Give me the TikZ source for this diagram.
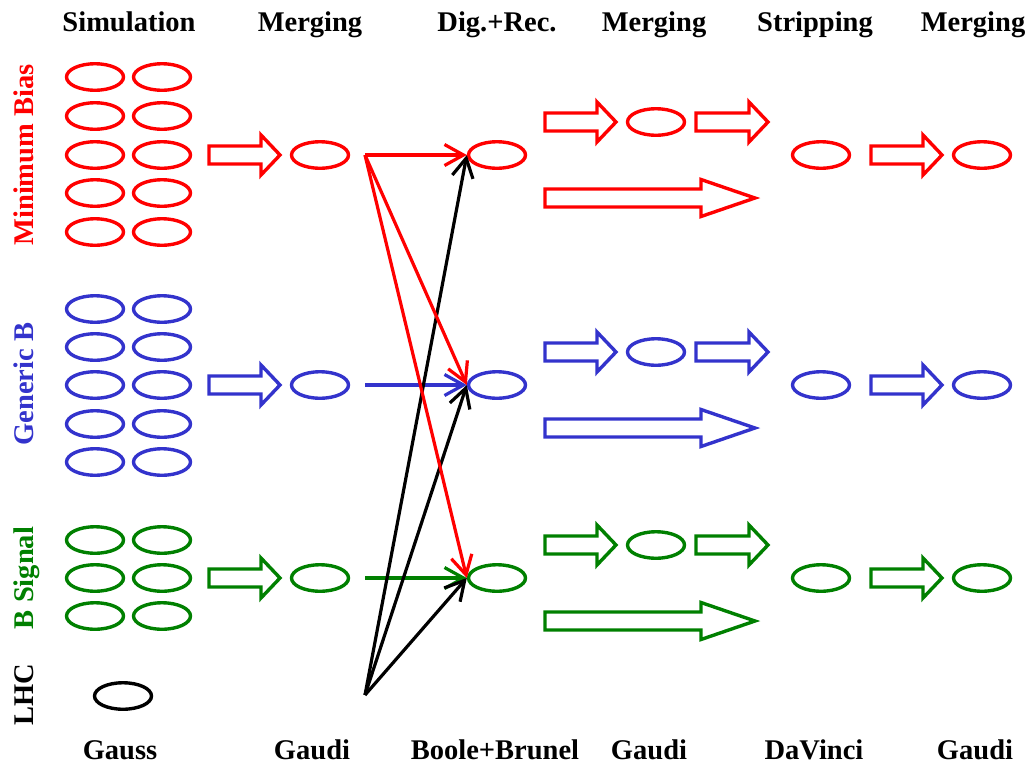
\documentclass[tikz,border=0pt]{standalone}
\usepackage{fontspec}
\setmainfont{Liberation Serif}
\usetikzlibrary{arrows.meta,shapes.geometric}
\definecolor{myred}{RGB}{255,0,0}
\definecolor{myblue}{RGB}{51,51,204}
\definecolor{mygreen}{RGB}{0,128,0}
% block arrow: colour, y, x start, x head start, x tip, head half height
\newcommand\blockarr[6]{%
  \draw[blockline,#1] (#3,#2-9) -- (#4,#2-9) -- (#4,#2-#6) -- (#5,#2) -- (#4,#2+#6) -- (#4,#2+9) -- (#3,#2+9) -- cycle;}
\begin{document}
\begin{tikzpicture}[x=1pt,y=-1pt,
  lab/.style={font=\fontsize{28.5}{30}\selectfont\bfseries, inner sep=0pt, anchor=base},
  ell/.style={draw, ellipse, line width=3.4pt, minimum width=57pt, minimum height=26.5pt, inner sep=0pt},
  blockline/.style={line width=3.4pt, line join=miter},
  conn/.style={line width=3.2pt, -{Straight Barb[length=19pt,width=21pt,line width=3.2pt]}}]
\useasboundingbox (0,0) rectangle (1029,764);
% header labels
\node[lab] (h1) at (129,31) {Simulation};
\node[lab] (h2) at (310,31) {Merging};
\node[lab] (h3) at (497,31) {Dig.+Rec.};
\node[lab] (h4) at (654,31) {Merging};
\node[lab] (h5) at (815,31) {Stripping};
\node[lab] (h6) at (973,31) {Merging};
% footer labels
\node[lab] (f1) at (120,759) {Gauss};
\node[lab] (f2) at (312,759) {Gaudi};
\node[lab] (f3) at (495,759) {Boole+Brunel};
\node[lab] (f4) at (649,759) {Gaudi};
\node[lab] (f5) at (814,759) {DaVinci};
\node[lab] (f6) at (975,759) {Gaudi};
% side labels
\node[lab, rotate=90, text=myred] (s1) at (33,155) {Minimum Bias};
\node[lab, rotate=90, text=myblue] (s2) at (33,384) {Generic B};
\node[lab, rotate=90, text=mygreen] (s3) at (33,578) {B Signal};
\node[lab, rotate=90] (s4) at (33,695) {LHC};
% simulation ellipses
\foreach \y [count=\i] in {77,116,155,193,232} {
  \node[ell, myred] (rs\i a) at (95,\y) {};
  \node[ell, myred] (rs\i b) at (162,\y) {};
}
\foreach \y [count=\i] in {309,347,385,424,462} {
  \node[ell, myblue] (bs\i a) at (95,\y) {};
  \node[ell, myblue] (bs\i b) at (162,\y) {};
}
\foreach \y [count=\i] in {540,578,616} {
  \node[ell, mygreen] (gs\i a) at (95,\y) {};
  \node[ell, mygreen] (gs\i b) at (162,\y) {};
}
\node[ell, black] (lhc) at (123,696) {};
% rows
\foreach \c/\n/\y in {myred/r/155, myblue/b/385, mygreen/g/578} {
  \blockarr{\c}{\y}{209}{261}{280}{20}
  \node[ell, \c] (\n m) at (320,\y) {};
  \coordinate (\n o) at (365,\y);
  \node[ell, \c] (\n d) at (497,\y) {};
  \blockarr{\c}{\y-33}{545}{597}{616}{20}
  \node[ell, \c] (\n g) at (656,\y-33) {};
  \blockarr{\c}{\y-33}{696}{749}{768}{20}
  \blockarr{\c}{\y+43}{545}{701}{755}{18.5}
  \node[ell, \c] (\n s) at (821,\y) {};
  \blockarr{\c}{\y}{871}{923}{942}{20}
  \node[ell, \c] (\n f) at (982,\y) {};
}
\coordinate (lo) at (365,695);
% connectors
\draw[conn, myblue] (bo) -- (bd.west);
\draw[conn, mygreen] (go) -- (gd.west);
\draw[conn, black] (lo) -- (rd.west);
\draw[conn, black] (lo) -- (bd.west);
\draw[conn, black] (lo) -- (gd.west);
\draw[conn, myred] (ro) -- (rd.west);
\draw[conn, myred] (ro) -- (bd.west);
\draw[conn, myred] (ro) -- (gd.west);
\end{tikzpicture}
\end{document}
